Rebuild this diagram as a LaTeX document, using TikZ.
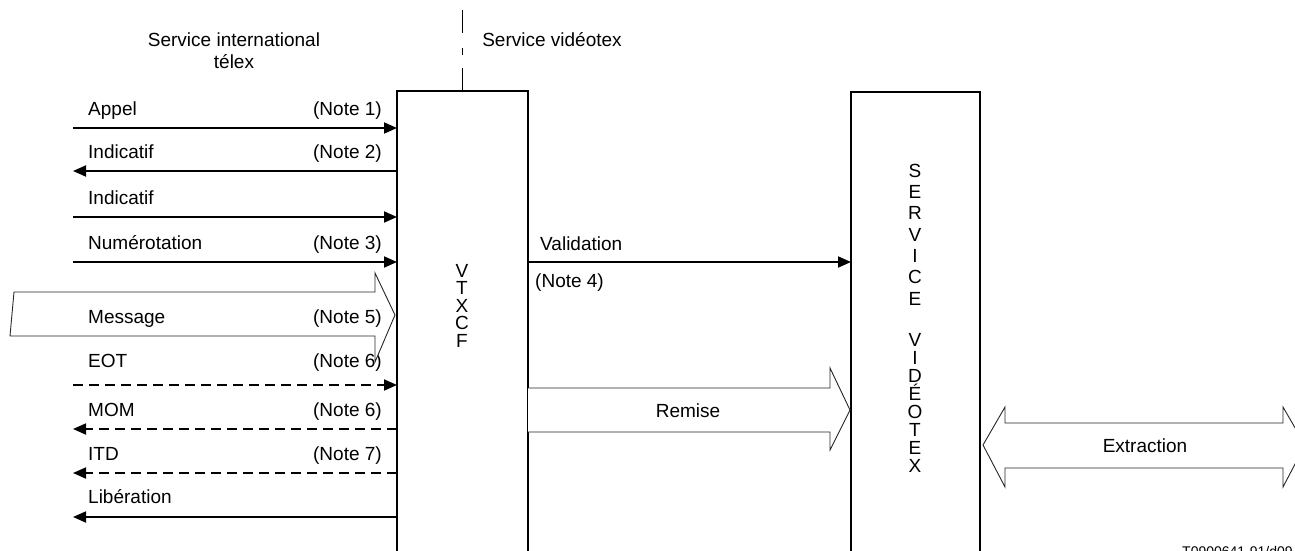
\documentclass[tikz,border=0pt]{standalone}
\usepackage{fontspec}
\setmainfont{Liberation Sans}
\usetikzlibrary{arrows.meta}
\tikzset{
  lbl/.style={font=\fontsize{19}{17.5}\selectfont, inner sep=0pt, anchor=base west},
  note/.style={font=\fontsize{19}{17.5}\selectfont, inner sep=0pt, anchor=base east},
  ctr/.style={font=\fontsize{19}{17.5}\selectfont, inner sep=0pt, anchor=base, align=center},
  boxline/.style={line width=1.8pt},
  arr/.style={line width=1.8pt, -{Triangle[length=13pt,width=11pt]}},
  darr/.style={arr, dash pattern=on 10pt off 6pt},
  hollow/.style={line width=0.9pt, draw=black!85, fill=white, line join=miter},
}
\begin{document}
\begin{tikzpicture}[x=1pt,y=-1pt]
\useasboundingbox (0,0) rectangle (1295,551);
\clip (0,0) rectangle (1295,551);
% titles (base = last line)
\node[ctr] (tl) at (234,69) {Service international\\[4.5pt]télex};
\node[ctr] (tr) at (552,47) {Service vidéotex};
% dashed separator
\coordinate (d0) at (462,10);
\coordinate (d1) at (462,33);
\coordinate (d2) at (462,48);
\coordinate (d3) at (462,55);
\coordinate (d4) at (462,68);
\coordinate (d5) at (462,91);
\draw[line width=0.9pt] (d0) -- (d1) (d2) -- (d3) (d4) -- (d5);
% VTXCF box (open at bottom)
\coordinate (vbl) at (397,560);
\coordinate (vtl) at (397,91);
\coordinate (vtr) at (528,91);
\coordinate (vbr) at (528,560);
\draw[boxline] (vbl) -- (vtl) -- (vtr) -- (vbr);
\node[ctr] (vtxcf) at (462,347) {V\\T\\X\\C\\F};
% Service videotex box
\coordinate (sbl) at (851,560);
\coordinate (stl) at (851,92);
\coordinate (str) at (980,92);
\coordinate (sbr) at (980,560);
\draw[boxline] (sbl) -- (stl) -- (str) -- (sbr);
\node[ctr, font=\fontsize{19}{21.3}\selectfont] (sv1) at (915,305) {S\\E\\R\\V\\I\\C\\E};
\node[ctr, font=\fontsize{19}{17.9}\selectfont] (sv2) at (915,472) {V\\I\\D\\É\\O\\T\\E\\X};
% left side arrows
\coordinate (a1) at (73,128);  \coordinate (b1) at (397,128);
\coordinate (a2) at (73,171);  \coordinate (b2) at (397,171);
\coordinate (a3) at (73,217);  \coordinate (b3) at (397,217);
\coordinate (a4) at (73,262);  \coordinate (b4) at (397,262);
\coordinate (a6) at (73,385);  \coordinate (b6) at (397,385);
\coordinate (a7) at (73,429);  \coordinate (b7) at (397,429);
\coordinate (a8) at (73,473);  \coordinate (b8) at (397,473);
\coordinate (a9) at (73,517);  \coordinate (b9) at (397,517);
\draw[arr] (a1) -- (b1);
\draw[arr] (b2) -- (a2);
\draw[arr] (a3) -- (b3);
\draw[arr] (a4) -- (b4);
\draw[darr] (a6) -- (b6);
\draw[darr] (b7) -- (a7);
\draw[darr] (b8) -- (a8);
\draw[arr] (b9) -- (a9);
\node[lbl] (l1) at (88,115) {Appel};
\node[note] (n1) at (382,115) {(Note 1)};
\node[lbl] (l2) at (88,158) {Indicatif};
\node[note] (n2) at (382,158) {(Note 2)};
\node[lbl] (l3) at (88,204) {Indicatif};
\node[lbl] (l4) at (88,249) {Numérotation};
\node[note] (n4) at (382,249) {(Note 3)};
\node[lbl] (l6) at (88,367) {EOT};
\node[note] (n6) at (382,367) {(Note 6)};
\node[lbl] (l7) at (88,416) {MOM};
\node[note] (n7) at (382,416) {(Note 6)};
\node[lbl] (l8) at (88,460) {ITD};
\node[note] (n8) at (382,460) {(Note 7)};
\node[lbl] (l9) at (88,503) {Libération};
% Message hollow arrow
\draw[hollow] (14,292) -- (375,292) -- (375,273) -- (395,315) -- (375,362) -- (375,336) -- (10,336) -- cycle;
\node[lbl] (l5) at (88,323) {Message};
\node[note] (n5) at (382,323) {(Note 5)};
% Validation
\coordinate (va) at (528,262);
\coordinate (vb) at (851,262);
\draw[arr] (va) -- (vb);
\node[lbl] (val) at (540,250) {Validation};
\node[lbl] (n4b) at (535,287) {(Note 4)};
% Remise hollow arrow
\draw[hollow] (528,388) -- (830,388) -- (830,368) -- (850,410) -- (830,450) -- (830,432) -- (528,432);
\node[ctr] (rem) at (688,417) {Remise};
% Extraction double arrow
\draw[hollow] (983,445) -- (1005,407) -- (1005,423) -- (1283,423) -- (1283,407) -- (1305,445) -- (1283,487) -- (1283,468) -- (1005,468) -- (1005,487) -- cycle;
\node[ctr] (ext) at (1145,452) {Extraction};
% reference number
\node[font=\fontsize{14}{16}\selectfont, inner sep=0pt, anchor=base west] (ref) at (1182,556) {T0900641-91/d09};
\end{tikzpicture}
\end{document}
